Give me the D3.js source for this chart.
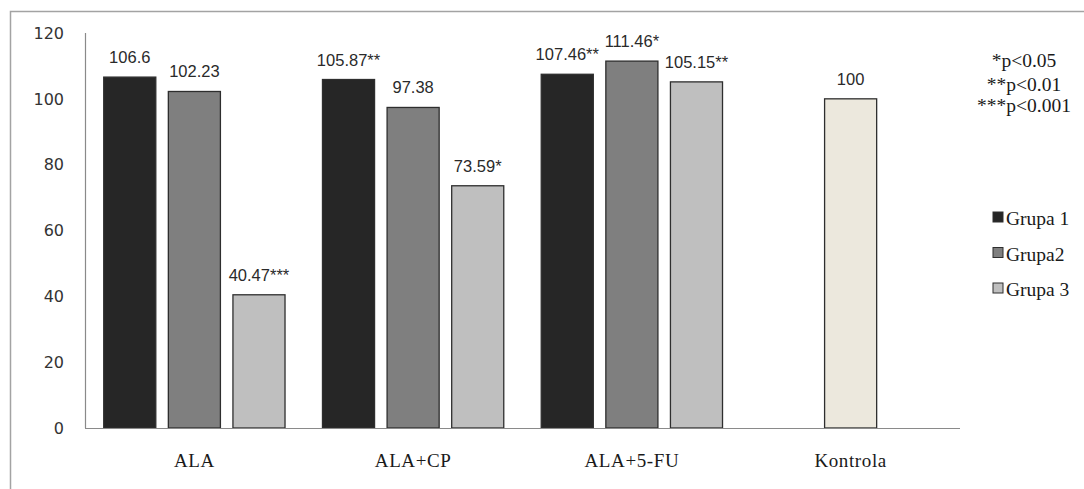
<!DOCTYPE html>
<html>
<head>
<meta charset="utf-8">
<script src="https://cdn.jsdelivr.net/npm/d3@7"></script>
<style>
  html, body { margin: 0; padding: 0; background: #ffffff; }
  svg { display: block; }
</style>
</head>
<body>
<svg id="chart" width="1084" height="489"></svg>
<script>
// ---- data ----
const categories = ["ALA", "ALA+CP", "ALA+5-FU", "Kontrola"];
const seriesNames = ["Grupa 1", "Grupa2", "Grupa 3"];
const grupa1 = [106.6, 105.87, 107.46];
const grupa2 = [102.23, 97.38, 111.46];
const grupa3 = [40.47, 73.59, 105.15];
const grupa1Labels = ["106.6", "105.87**", "107.46**"];
const grupa2Labels = ["102.23", "97.38", "111.46*"];
const grupa3Labels = ["40.47***", "73.59*", "105.15**"];
const kontrolaValue = [100];
const kontrolaLabels = ["100"];
const yTicks = [0, 20, 40, 60, 80, 100, 120];
const significance = ["*p<0.05", "**p<0.01", "***p<0.001"];

// ---- build ----
const svg = d3.select("#chart");
const colors = { "Grupa 1": "#262626", "Grupa2": "#7f7f7f", "Grupa 3": "#bfbfbf", "Kontrola": "#ece8dd" };

// outer border
svg.append("rect")
  .attr("x", 10.5).attr("y", 11.5).attr("width", 1100).attr("height", 500)
  .attr("fill", "none").attr("stroke", "#a3a3a3").attr("stroke-width", 1.5);

const x = d3.scaleBand().domain(categories).range([85, 960]).paddingInner(0).paddingOuter(0);
const xs = d3.scaleBand().domain(seriesNames).range([0, x.bandwidth()]).paddingInner(0.194).paddingOuter(0.29);
const y = d3.scaleLinear().domain([0, 120]).range([428, 33]);

const valuesBySeries = [grupa1, grupa2, grupa3];
const labelsBySeries = [grupa1Labels, grupa2Labels, grupa3Labels];

const bars = [];
seriesNames.forEach((s, si) => {
  valuesBySeries[si].forEach((v, ci) => {
    bars.push({ cat: categories[ci], series: s, value: v, label: labelsBySeries[si][ci],
      x: x(categories[ci]) + xs(s), w: xs.bandwidth() });
  });
});
kontrolaValue.forEach((v, i) => {
  const bw = xs.bandwidth();
  bars.push({ cat: "Kontrola", series: "Kontrola", value: v, label: kontrolaLabels[i],
    x: x("Kontrola") + x.bandwidth() / 2 - bw / 2, w: bw });
});

// y axis line
svg.append("line")
  .attr("x1", 85.5).attr("x2", 85.5).attr("y1", y(120)).attr("y2", y(0))
  .attr("stroke", "#8a8a8a").attr("stroke-width", 1.2);

// y tick labels
svg.append("g").selectAll("text").data(yTicks).join("text")
  .attr("x", 64).attr("y", d => y(d)).attr("dy", "0.36em")
  .attr("text-anchor", "end")
  .attr("font-family", "DejaVu Sans, Verdana, sans-serif").attr("font-size", 16)
  .attr("fill", "#333").text(d => d);

// bars
svg.append("g").selectAll("rect").data(bars).join("rect")
  .attr("x", d => d.x).attr("width", d => d.w)
  .attr("y", d => y(d.value)).attr("height", d => y(0) - y(d.value))
  .attr("fill", d => colors[d.series])
  .attr("stroke", "#2e2e2e").attr("stroke-width", 1.3);

// x axis baseline
svg.append("line")
  .attr("x1", 85).attr("x2", 960).attr("y1", y(0) + 0.5).attr("y2", y(0) + 0.5)
  .attr("stroke", "#8a8a8a").attr("stroke-width", 1.2);

// value labels
svg.append("g").selectAll("text").data(bars).join("text")
  .attr("x", d => d.x + d.w / 2).attr("y", d => y(d.value) - 14)
  .attr("text-anchor", "middle")
  .attr("font-family", "Liberation Sans, Arial, sans-serif").attr("font-size", 16.5)
  .attr("fill", "#2a2a2a").text(d => d.label);

// category labels
svg.append("g").selectAll("text").data(categories).join("text")
  .attr("x", d => x(d) + x.bandwidth() / 2).attr("y", 467)
  .attr("text-anchor", "middle")
  .attr("font-family", "Liberation Serif, Times New Roman, serif").attr("font-size", 19)
  .attr("letter-spacing", 0.6)
  .attr("fill", "#1a1a1a").text(d => d);

// significance notes
const sigY = [67, 91, 112];
svg.append("g").selectAll("text").data(significance).join("text")
  .attr("x", 1024).attr("y", (d, i) => sigY[i])
  .attr("text-anchor", "middle")
  .attr("font-family", "Liberation Serif, Times New Roman, serif").attr("font-size", 19.5)
  .attr("fill", "#1a1a1a").text(d => d);

// legend
const legend = svg.append("g").selectAll("g").data(seriesNames).join("g")
  .attr("transform", (d, i) => `translate(993, ${212 + i * 35.5})`);
legend.append("rect").attr("width", 10).attr("height", 10)
  .attr("fill", d => colors[d]).attr("stroke", "#2e2e2e").attr("stroke-width", 1);
legend.append("text").attr("x", 13).attr("y", 13)
  .attr("font-family", "Liberation Serif, Times New Roman, serif").attr("font-size", 19.5)
  .attr("fill", "#1a1a1a").text(d => d);
</script>
</body>
</html>
